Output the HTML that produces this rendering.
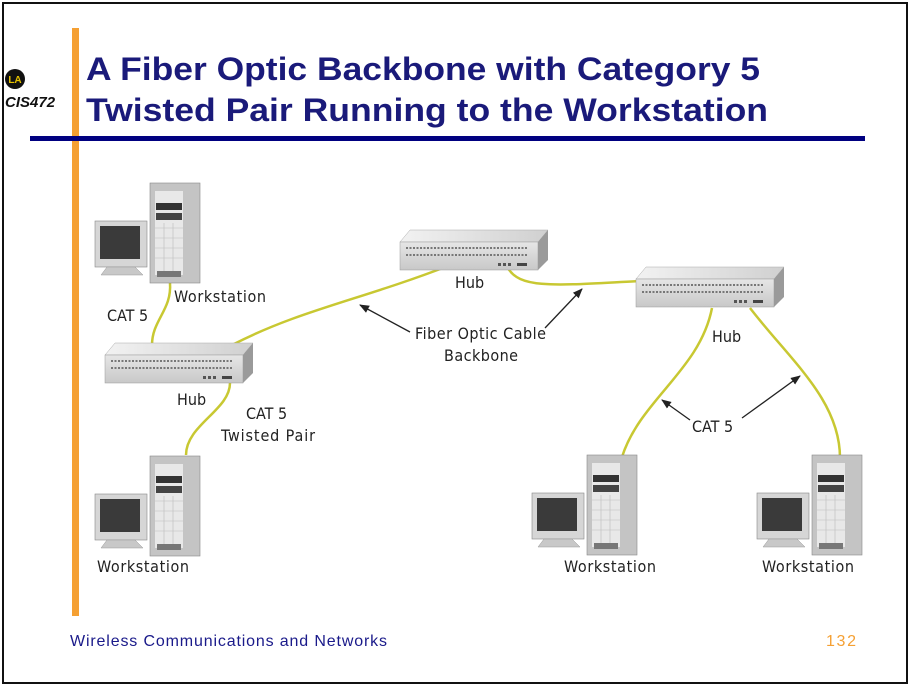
<!DOCTYPE html>
<html><head><style>
body{margin:0;background:#fff;}
svg{display:block;}
</style></head><body>
<svg width="910" height="686" viewBox="0 0 910 686" xmlns="http://www.w3.org/2000/svg">
<defs>
<linearGradient id="hf" x1="0" y1="0" x2="0" y2="1"><stop offset="0" stop-color="#e6e6e6"/><stop offset="1" stop-color="#c8c8c8"/></linearGradient>
<linearGradient id="ht" x1="0" y1="0" x2="1" y2="0"><stop offset="0" stop-color="#f2f2f2"/><stop offset="1" stop-color="#d0d0d0"/></linearGradient>
<g id="hub">
<polygon points="0,12 10,0 148,0 138,12" fill="url(#ht)" stroke="#aaa" stroke-width="0.5"/>
<polygon points="138,12 148,0 148,30 138,40" fill="#9a9a9a"/>
<rect x="0" y="12" width="138" height="28" fill="url(#hf)" stroke="#999" stroke-width="0.5"/>
<line x1="6" y1="18" x2="128" y2="18" stroke="#777" stroke-width="2" stroke-dasharray="2,1.5"/>
<line x1="6" y1="25" x2="128" y2="25" stroke="#777" stroke-width="2" stroke-dasharray="2,1.5"/>
<rect x="98" y="33" width="3" height="3" fill="#555"/><rect x="103" y="33" width="3" height="3" fill="#555"/><rect x="108" y="33" width="3" height="3" fill="#555"/>
<rect x="117" y="33" width="10" height="3" fill="#444"/>
</g>
<g id="ws">
<rect x="55" y="0" width="50" height="100" fill="#c4c4c4" stroke="#888" stroke-width="0.6"/>
<rect x="60" y="8" width="28" height="84" fill="#e8e8e8"/>
<rect x="61" y="20" width="26" height="7" fill="#333"/>
<rect x="61" y="30" width="26" height="7" fill="#444"/>
<g stroke="#bbb" stroke-width="0.6"><line x1="60" y1="45" x2="88" y2="45"/><line x1="60" y1="55" x2="88" y2="55"/><line x1="60" y1="65" x2="88" y2="65"/><line x1="60" y1="75" x2="88" y2="75"/><line x1="69" y1="40" x2="69" y2="92"/><line x1="78" y1="40" x2="78" y2="92"/></g>
<rect x="62" y="88" width="24" height="6" fill="#777"/>
<rect x="0" y="38" width="52" height="46" fill="#d6d6d6" stroke="#888" stroke-width="0.6"/>
<rect x="5" y="43" width="40" height="33" fill="#3a3a3a"/>
<polygon points="12,84 40,84 48,92 6,92" fill="#c8c8c8" stroke="#999" stroke-width="0.5"/>
</g>
<marker id="ar" markerWidth="10" markerHeight="10" refX="9" refY="5" orient="auto" markerUnits="userSpaceOnUse"><path d="M0,1 L10,5 L0,9 z" fill="#222"/></marker>
</defs>
<rect x="3" y="3" width="904" height="680" fill="#fff" stroke="#111" stroke-width="2"/>
<rect x="72" y="28" width="7" height="588" fill="#f5a033"/>
<rect x="30" y="136" width="835" height="5" fill="#000080"/>
<circle cx="15" cy="79" r="10" fill="#111"/>
<text x="15" y="83" font-family="Liberation Sans,sans-serif" font-size="10" font-weight="bold" fill="#e6c200" text-anchor="middle">LA</text>
<text x="5" y="107" font-family="Liberation Sans,sans-serif" font-size="15" font-style="italic" font-weight="bold" fill="#111">CIS472</text>
<text x="86" y="80" font-family="Liberation Sans,sans-serif" font-size="32" font-weight="bold" fill="#1a1a7a" textLength="674" lengthAdjust="spacingAndGlyphs">A Fiber Optic Backbone with Category 5</text>
<text x="86" y="121" font-family="Liberation Sans,sans-serif" font-size="32" font-weight="bold" fill="#1a1a7a" textLength="682" lengthAdjust="spacingAndGlyphs">Twisted Pair Running to the Workstation</text>

<g fill="none" stroke="#c8c832" stroke-width="2.5">
<path d="M170 283 C172 310 152 320 152 345"/>
<path d="M230 383 C230 410 186 425 186 455"/>
<path d="M232 345 C300 310 360 300 448 266"/>
<path d="M508 268 C520 290 560 285 640 281"/>
<path d="M712 308 C700 370 640 400 622 457"/>
<path d="M750 308 C790 360 840 400 840 458"/>
</g>
<use href="#hub" x="105" y="343"/>
<use href="#hub" x="400" y="230"/>
<use href="#hub" x="636" y="267"/>
<use href="#ws" x="95" y="183"/>
<use href="#ws" x="95" y="456"/>
<use href="#ws" x="532" y="455"/>
<use href="#ws" x="757" y="455"/>
<g stroke="#222" stroke-width="1.3" marker-end="url(#ar)">
<line x1="410" y1="332" x2="360" y2="305"/>
<line x1="545" y1="328" x2="582" y2="289"/>
<line x1="690" y1="420" x2="662" y2="400"/>
<line x1="742" y1="418" x2="800" y2="376"/>
</g>
<g font-family="DejaVu Sans Condensed,Liberation Sans Narrow,sans-serif" font-size="16" fill="#222">
<text x="174" y="302" textLength="92">Workstation</text>
<text x="107" y="321">CAT 5</text>
<text x="177" y="405">Hub</text>
<text x="246" y="419">CAT 5</text>
<text x="221" y="441" textLength="94">Twisted Pair</text>
<text x="455" y="288">Hub</text>
<text x="415" y="339" textLength="131">Fiber Optic Cable</text>
<text x="444" y="361" textLength="74">Backbone</text>
<text x="712" y="342">Hub</text>
<text x="692" y="432">CAT 5</text>
<text x="97" y="572" textLength="92">Workstation</text>
<text x="564" y="572" textLength="92">Workstation</text>
<text x="762" y="572" textLength="92">Workstation</text>
</g>
<text x="70" y="646" font-family="Liberation Sans,sans-serif" font-size="16" fill="#1a1a8a" textLength="317">Wireless Communications and Networks</text>
<text x="826" y="646" font-family="Liberation Sans,sans-serif" font-size="16" fill="#f5a033" textLength="30">132</text>
</svg>
</body></html>
